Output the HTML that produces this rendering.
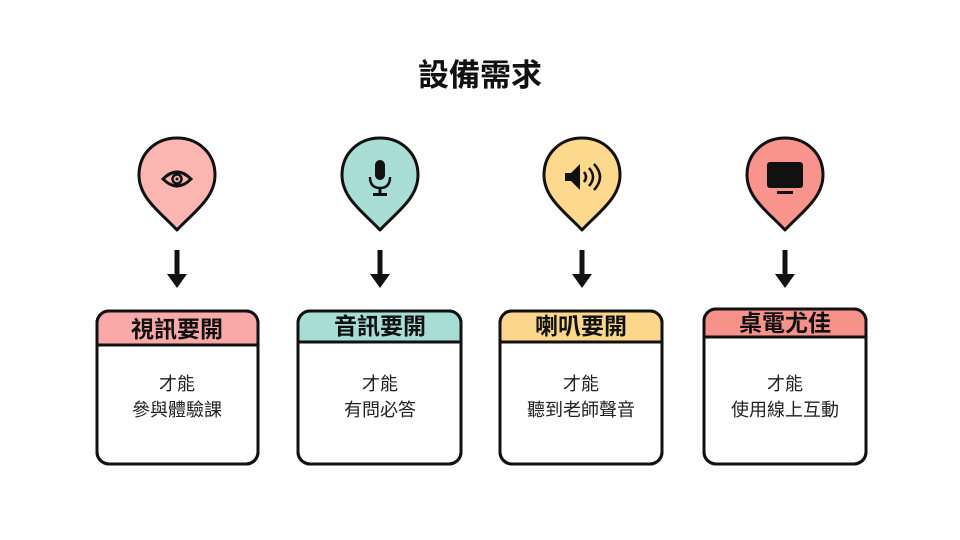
<!DOCTYPE html>
<html><head><meta charset="utf-8"><style>
html,body{margin:0;padding:0;background:#fff;}
svg{display:block;}
text{font-family:"Liberation Sans","Noto Sans CJK TC",sans-serif;}
</style></head><body>
<svg width="960" height="540" viewBox="0 0 960 540" xmlns="http://www.w3.org/2000/svg">
<text x="480" y="86" text-anchor="middle" font-size="31" font-weight="bold" fill="#111">設備需求</text>

<g stroke="#111" stroke-width="3" stroke-linejoin="round">
<path d="M177,230 C160,212 139,198 139,175 C139,153 156,138 177,138 C198,138 215,153 215,175 C215,198 194,212 177,230 Z" fill="#fbb6b1"/>
<path d="M380,230 C363,212 342,198 342,175 C342,153 359,138 380,138 C401,138 418,153 418,175 C418,198 397,212 380,230 Z" fill="#a9ded6"/>
<path d="M582,230 C565,212 544,198 544,175 C544,153 561,138 582,138 C603,138 620,153 620,175 C620,198 599,212 582,230 Z" fill="#fdd98e"/>
<path d="M785,230 C768,212 747,198 747,175 C747,153 764,138 785,138 C806,138 823,153 823,175 C823,198 802,212 785,230 Z" fill="#f8948b"/>
</g>

<g>
<path d="M163,179 Q177,165 191,179 Q177,193 163,179 Z" fill="none" stroke="#111" stroke-width="3"/>
<circle cx="177" cy="179" r="4.5" fill="none" stroke="#111" stroke-width="2.5"/>
<circle cx="177" cy="179" r="1.5" fill="#111"/>
<rect x="375" y="160" width="10" height="20" rx="5" fill="#111"/>
<path d="M370,177 Q370,188 380,188 Q390,188 390,177" fill="none" stroke="#111" stroke-width="2.5"/>
<rect x="378.5" y="188" width="3" height="6" fill="#111"/>
<rect x="373" y="193" width="14" height="3" fill="#111"/>
<path d="M565,173 h6 l9,-9 v26 l-9,-9 h-6 z" fill="#111"/>
<path d="M584,172 q4,5 0,10 M589,168 q8,9 0,18 M594,164 q12,13 0,26" fill="none" stroke="#111" stroke-width="2.5"/>
<rect x="767" y="162" width="36" height="26" rx="3" fill="#111"/>
<rect x="777" y="191" width="16" height="3" fill="#111"/>
</g>

<g fill="#111">
<rect x="174.5" y="250" width="5" height="26"/><path d="M167,274 h20 l-10,14 z"/>
<rect x="377.5" y="250" width="5" height="26"/><path d="M370,274 h20 l-10,14 z"/>
<rect x="579.5" y="250" width="5" height="26"/><path d="M572,274 h20 l-10,14 z"/>
<rect x="782.5" y="250" width="5" height="26"/><path d="M775,274 h20 l-10,14 z"/>
</g>

<g stroke="#111" stroke-width="3">
<rect x="97" y="311" width="161" height="153" rx="12" fill="#fff"/>
<path d="M98.5,345 V323 Q98.5,312.5 109,312.5 H246 Q256.5,312.5 256.5,323 V345 Z" fill="#f9aaa8" stroke="none"/>
<line x1="97" y1="345" x2="258" y2="345"/>
<rect x="97" y="311" width="161" height="153" rx="12" fill="none"/>

<rect x="298" y="311" width="163" height="153" rx="12" fill="#fff"/>
<path d="M299.5,342 V323 Q299.5,312.5 310,312.5 H449 Q459.5,312.5 459.5,323 V342 Z" fill="#a7ddd5" stroke="none"/>
<line x1="298" y1="342" x2="461" y2="342"/>
<rect x="298" y="311" width="163" height="153" rx="12" fill="none"/>

<rect x="500" y="311" width="162" height="153" rx="12" fill="#fff"/>
<path d="M501.5,342 V323 Q501.5,312.5 512,312.5 H650 Q660.5,312.5 660.5,323 V342 Z" fill="#fdd68e" stroke="none"/>
<line x1="500" y1="342" x2="662" y2="342"/>
<rect x="500" y="311" width="162" height="153" rx="12" fill="none"/>

<rect x="704" y="309" width="162" height="155" rx="12" fill="#fff"/>
<path d="M705.5,337 V321 Q705.5,310.5 716,310.5 H854 Q864.5,310.5 864.5,321 V337 Z" fill="#f7928a" stroke="none"/>
<line x1="704" y1="337" x2="866" y2="337"/>
<rect x="704" y="309" width="162" height="155" rx="12" fill="none"/>
</g>

<g font-size="23" font-weight="bold" text-anchor="middle" fill="#111">
<text x="177" y="337">視訊要開</text>
<text x="380" y="334">音訊要開</text>
<text x="581" y="334">喇叭要開</text>
<text x="785" y="331">桌電尤佳</text>
</g>
<g font-size="18" text-anchor="middle" fill="#222">
<text x="177" y="390">才能</text><text x="177" y="416">參與體驗課</text>
<text x="380" y="390">才能</text><text x="380" y="416">有問必答</text>
<text x="581" y="390">才能</text><text x="581" y="416">聽到老師聲音</text>
<text x="785" y="390">才能</text><text x="785" y="416">使用線上互動</text>
</g>
</svg>
</body></html>
